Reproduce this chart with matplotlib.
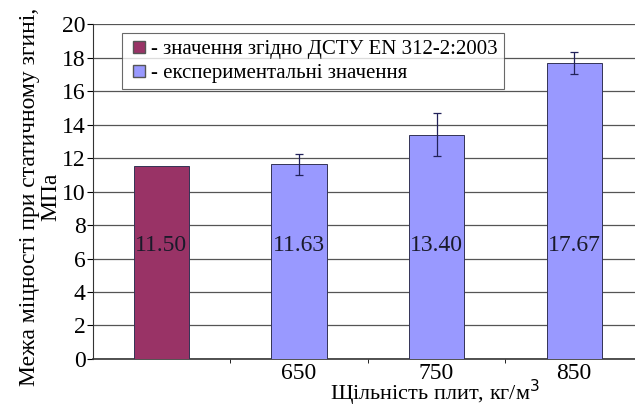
import matplotlib
matplotlib.use("Agg")
import matplotlib.pyplot as plt
from matplotlib.lines import Line2D

# data
categories = ["", "650", "750", "850"]
values = [11.50, 11.63, 13.40, 17.67]
errors = [0.0, 0.62, 1.28, 0.65]
bar_colors = ["#993366", "#9999FF", "#9999FF", "#9999FF"]
legend_labels = ["- значення згідно ДСТУ EN 312-2:2003", "- експериментальні значення"]

plt.rcParams['font.family'] = ['Liberation Serif', 'DejaVu Serif']

fig = plt.figure(figsize=(6.35, 4.05), dpi=100)
ax = fig.add_axes([0.1457, 0.1136, 0.867, 0.827])

x = list(range(len(values)))
ax.bar(x, values, width=0.40, color=bar_colors, edgecolor="#333355", linewidth=0.7, zorder=3)
# error bars only for the experimental bars
ax.errorbar(x[1:], values[1:], yerr=errors[1:], fmt="none", ecolor="#22225a",
            elinewidth=0.9, capsize=3, capthick=0.9, zorder=4)

for xi, v in zip(x, values):
    ax.text(xi, 6.8, f"{v:.2f}", ha="center", va="center", fontsize=17, color="#1a1a2a", zorder=5)

ax.set_xlim(-0.5, 3.5)
ax.set_ylim(0, 20)
ax.set_yticks(range(0, 21, 2))
ax.set_xticks(x)
ax.set_xticklabels(categories)
ax.set_xticks([0.5, 1.5, 2.5], minor=True)
ax.tick_params(axis="x", which="major", length=0, labelsize=17, pad=3)
ax.tick_params(axis="x", which="minor", length=3, direction="out")
ax.tick_params(axis="y", labelsize=17, length=4, direction="out", pad=1)

ax.yaxis.grid(True, color="#555555", linewidth=0.9, zorder=0)
for s in ["top", "right"]:
    ax.spines[s].set_visible(False)
ax.spines["left"].set_color("#333333")
ax.spines["bottom"].set_color("#333333")
ax.spines["bottom"].set_linewidth(1.2)

fig.text(40 / 635, 1 - 197 / 405, "Межа міцності при статичному згині,\nМПа", rotation=90,
         ha="center", va="center", multialignment="center", fontsize=17, linespacing=1.05)
fig.text(435 / 635, 1 - 393 / 405, "Щільність плит, кг/м$^3$", ha="center", va="center", fontsize=16)

handles = [Line2D([], [], marker="s", linestyle="none", markersize=8,
                  markerfacecolor=c, markeredgecolor="#555555") for c in ["#993366", "#9999FF"]]
leg = ax.legend(handles, legend_labels, loc="upper left", bbox_to_anchor=(0.035, 1.003),
                fontsize=15, frameon=True, fancybox=False, edgecolor="#444444",
                handletextpad=0.1, borderpad=0.3, labelspacing=0.2, handlelength=1.0)
leg.get_frame().set_linewidth(0.8)

fig.savefig("out.png", dpi=100)
